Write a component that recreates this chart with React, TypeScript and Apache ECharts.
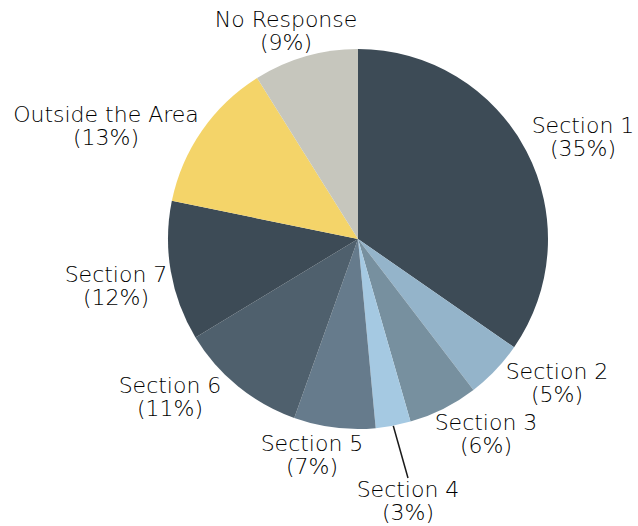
import React, { useEffect, useRef } from "react";
import * as echarts from "echarts";

const categories = [
  "Section 1",
  "Section 2",
  "Section 3",
  "Section 4",
  "Section 5",
  "Section 6",
  "Section 7",
  "Outside the Area",
  "No Response",
];
const percents = [35, 5, 6, 3, 7, 11, 12, 13, 9];

const COLORS = [
  "#3d4b56",
  "#94b4ca",
  "#77909f",
  "#a5c9e2",
  "#667b8c",
  "#4f606d",
  "#3d4b56",
  "#f4d469",
  "#c6c6bd",
];

// label block centres (text placement only)
const LABEL_POS: [number, number][] = [
  [583, 137],
  [557, 383],
  [486, 434],
  [408, 501],
  [312, 455],
  [170, 397],
  [116, 286],
  [106, 126],
  [286, 31],
];

export default function App() {
  const ref = useRef<HTMLDivElement>(null);
  useEffect(() => {
    document.body.style.margin = "0";
    if (!ref.current) return;
    const chart = echarts.init(ref.current, undefined, { renderer: "svg" });
    chart.setOption({
      animation: false,
      backgroundColor: "#ffffff",
      series: [
        {
          type: "pie",
          center: [358, 239],
          radius: 190,
          startAngle: 90,
          clockwise: true,
          silent: true,
          itemStyle: { borderWidth: 0 },
          label: {
            show: true,
            position: "outside",
            formatter: (p: any) => `${p.name}\n(${p.value}%)`,
            fontFamily: "DejaVu Sans",
            fontWeight: 200,
            fontSize: 22,
            lineHeight: 23,
            color: "#000000",
            align: "center",
            overflow: "none",
          },
          labelLine: { show: false },
          labelLayout: (params: any) => {
            const pos = LABEL_POS[params.dataIndex];
            return {
              x: pos[0],
              y: pos[1],
              align: "center",
              verticalAlign: "middle",
              hideOverlap: false,
            };
          },
          data: categories.map((name, i) => ({
            name,
            value: percents[i],
            itemStyle: { color: COLORS[i] },
            labelLine:
              i === 3
                ? { show: true, lineStyle: { color: "#1a1a1a", width: 1.5 }, length: 10, length2: 0 }
                : { show: false },
          })),
        },
      ],
    });
    return () => chart.dispose();
  }, []);
  return <div ref={ref} style={{ width: 638, height: 526 }} />;
}
